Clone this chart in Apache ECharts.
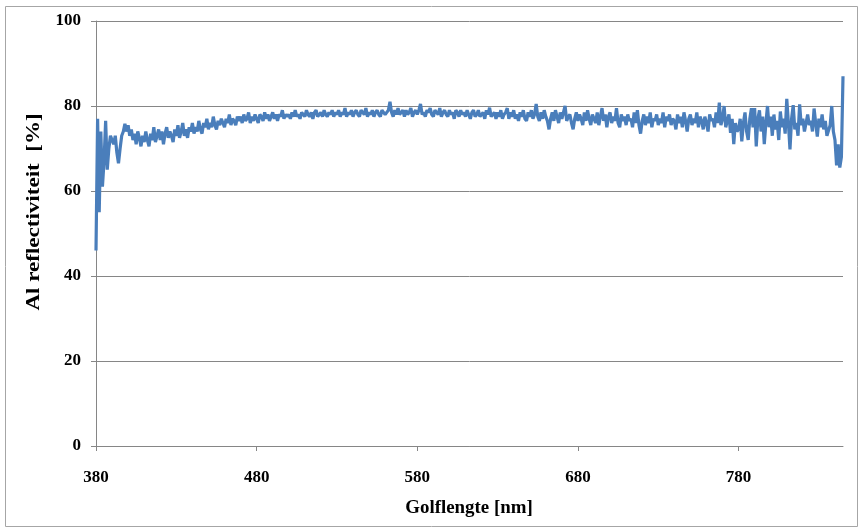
<!DOCTYPE html>
<html>
<head>
<meta charset="utf-8">
<script src="https://cdn.jsdelivr.net/npm/echarts@6/dist/echarts.min.js"></script>
<style>
  html, body { margin: 0; padding: 0; background: #ffffff; }
  #chart { width: 864px; height: 531px; }
</style>
</head>
<body>
<div id="chart"></div>
<script>
// Wavelength of the first sample and sample spacing (nm)
const startNm = 380;
const stepNm = 1;
// Reflectance values [%], one per nm from 380 nm onward
const reflectance = [
  46, 77, 55, 74, 61, 67, 76.5, 65, 70, 73,
  72, 71, 73, 69, 66.5, 70, 73, 74, 75.8, 74,
  75.5, 73, 74.5, 72, 73.5, 71, 74, 72.5, 70.5, 73,
  71.5, 74, 72, 70.5, 73.5, 72, 75, 71.5, 73, 74.5,
  72, 74, 71, 73.5, 75, 72.5, 74, 73, 71.5, 74.5,
  73, 75.5, 72.5, 74, 76, 73, 74.5, 72.5, 75, 74,
  76, 73.5, 75, 74, 76.5, 74.5, 73.5, 76, 75, 77,
  74.5, 76, 75, 77.5, 75.5, 74.5, 76.5, 75.5, 77, 76,
  75, 77, 76, 78, 75.5, 77, 76.5, 75.5, 77.5, 76.5,
  77.5, 76, 78, 76.5, 77, 78.5, 76, 77.5, 76.5, 78,
  77, 76, 78, 77.5, 76.5, 78.5, 77, 78, 76.5, 77.5,
  78.5, 77, 78, 76.5, 78, 77.5, 79, 77, 78, 77.5,
  78, 77, 78.5, 77.5, 79, 77.5, 78, 77, 78.5, 78,
  77.5, 79, 78, 77.5, 78.5, 77, 78.5, 79, 77.5, 78,
  78.5, 77.5, 79, 78, 77.5, 78.5, 78, 79, 77.5, 78.5,
  78, 79, 77.5, 78.5, 78, 79.5, 77.5, 78.5, 78, 79,
  77.5, 78.5, 79, 78, 77.5, 79, 78.5, 78, 79.5, 77.5,
  78.5, 78, 79, 77.5, 78.5, 79, 78, 77.5, 79, 78.5,
  78, 78.5, 79, 81, 78.5, 77.5, 79, 78, 79.5, 78,
  78.5, 79, 77.5, 79, 78, 78.5, 79.5, 77.5, 78.5, 79,
  78, 79, 80.5, 78, 78.5, 77.5, 79, 78.5, 79.5, 78,
  77.5, 79, 78.5, 78, 79.5, 77.5, 78.5, 79, 78, 77.5,
  79, 78, 78.5, 77, 79, 78.5, 77.5, 79, 78, 78.5,
  77.5, 79, 78, 77, 78.5, 79, 77.5, 78, 79, 77.5,
  78, 78.5, 77, 79, 78, 79.6, 77.5, 78, 78.5, 77,
  78.5, 77.5, 79, 77, 78, 78.5, 79.5, 77, 78.5, 77.5,
  79, 77, 78, 76.5, 78.5, 77.5, 79, 77, 76.5, 78.5,
  77.5, 79, 77, 78, 80.5, 77.5, 76.5, 78.5, 77, 79,
  77.5, 76.5, 74.5, 77, 78.5, 76.5, 79, 77.5, 76, 78.5,
  77, 78.5, 80, 76.5, 77.5, 78, 76, 74.5, 77, 78.5,
  76.5, 78, 77, 75.5, 78.5, 76.5, 79, 77, 75.5, 78,
  77, 76, 78.5, 75.5, 77.5, 79.5, 76.5, 78, 75, 77.5,
  78.5, 76, 77.5, 76.5, 79.5, 76, 75, 78, 76.5, 77.5,
  75.5, 78, 76.5, 77, 75, 78.5, 76, 79, 75.5, 73.5,
  76.5, 78, 75.5, 77.5, 76, 78.5, 75, 77, 76.5, 78,
  75.5, 77, 76, 78.5, 75, 77.5, 76.5, 78, 75.5, 77,
  76.5, 74.5, 78, 76, 77.5, 75, 78.5, 76.5, 74, 77,
  78, 75.5, 77, 76, 78.5, 75, 77.5, 76.5, 74.5, 77.5,
  76, 74, 78, 76.5, 77, 75, 78.5, 76, 80.8, 75.5,
  77, 80, 75, 76.5, 78, 73.7, 77, 71, 76, 74,
  74.5, 77, 71.7, 76, 78.5, 74, 72, 77, 79.5, 75,
  79.5, 70.5, 77, 79, 74, 77.5, 71, 76, 80, 75,
  77.5, 73, 78, 74.5, 76.5, 72, 78.7, 75, 77, 73.5,
  81.7, 76, 69.8, 77, 80.2, 74.5, 76, 73, 80.4, 75.5,
  77, 74, 73.7, 78, 75.5, 76.5, 74, 79.4, 76, 72.8,
  77, 75, 78, 74.5, 76.5, 73, 72.8, 75.5, 80, 74,
  72, 66, 71, 65.5, 68, 87
];
// Axis settings
const xTicks = [380, 480, 580, 680, 780];
const xMin = 380, xMax = 845;
const yMin = 0, yMax = 100, yStep = 20;
const xTitle = 'Golflengte [nm]';
const yTitle = 'Al reflectiviteit  [%]';

const seriesData = reflectance.map((v, i) => [startNm + i * stepNm, v]);

const font = 'Liberation Serif, Times New Roman, serif';
const gray = '#868686';

const chart = echarts.init(document.getElementById('chart'), null, { renderer: 'canvas' });
chart.setOption({
  animation: false,
  backgroundColor: '#ffffff',
  grid: { left: 96, right: 21, top: 21, bottom: 85, containLabel: false },
  graphic: [
    {
      type: 'rect',
      shape: { x: 5.5, y: 6.5, width: 852, height: 520 },
      style: { fill: 'none', stroke: '#a6a6a6', lineWidth: 1 },
      silent: true
    },
    {
      type: 'text',
      x: 34, y: 212,
      rotation: Math.PI / 2,
      scaleX: 1.28, scaleY: 1,
      style: {
        text: yTitle, fontFamily: font, fontWeight: 'bold', fontSize: 18,
        fill: '#000', align: 'center', verticalAlign: 'middle'
      },
      silent: true
    },
    {
      type: 'text',
      x: 469, y: 508,
      scaleX: 1.05, scaleY: 1.05,
      style: {
        text: xTitle, fontFamily: font, fontWeight: 'bold', fontSize: 18,
        fill: '#000', align: 'center', verticalAlign: 'middle'
      },
      silent: true
    }
  ],
  xAxis: {
    type: 'value',
    min: xMin, max: xMax, interval: 100,
    axisLine: { show: true, onZero: false, lineStyle: { color: gray, width: 1 } },
    axisTick: { show: true, length: 5, inside: false, customValues: xTicks, lineStyle: { color: gray } },
    axisLabel: { customValues: xTicks, margin: 23, fontFamily: font, fontWeight: 'bold', fontSize: 17, color: '#000' },
    splitLine: { show: false }
  },
  yAxis: {
    type: 'value',
    min: yMin, max: yMax, interval: yStep,
    axisLine: { show: true, lineStyle: { color: gray, width: 1 } },
    axisTick: { show: true, length: 5, inside: false, lineStyle: { color: gray } },
    axisLabel: { margin: 15, fontFamily: font, fontWeight: 'bold', fontSize: 17, color: '#000' },
    splitLine: { show: true, lineStyle: { color: gray, width: 1 } }
  },
  series: [{
    type: 'line',
    data: seriesData,
    showSymbol: false,
    symbol: 'none',
    lineStyle: { color: '#4a7ebb', width: 3.2 },
    itemStyle: { color: '#4a7ebb' },
    clip: true
  }]
});
</script>
</body>
</html>
